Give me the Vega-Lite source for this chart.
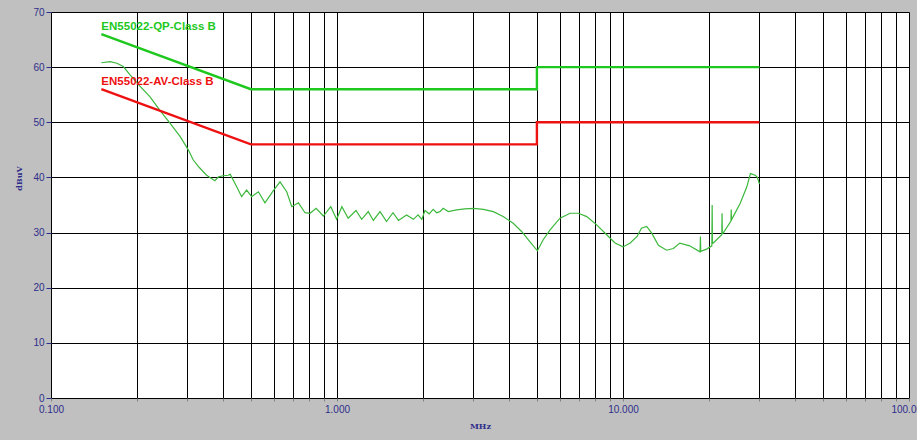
{
  "$schema": "https://vega.github.io/schema/vega-lite/v6.json",
  "autosize": {"type": "none"},
  "width": 858,
  "height": 386,
  "padding": {"left": 51, "top": 12, "right": 8, "bottom": 42},
  "background": "#c0c0c0",
  "view": {"fill": "white", "stroke": null},
  "config": {
    "font": "Liberation Sans",
    "axis": {
      "labelColor": "#2e2e8a",
      "labelFont": "Liberation Sans",
      "labelFontSize": 10,
      "titleColor": "#2e2e8a",
      "titleFont": "DejaVu Serif",
      "titleFontSize": 8,
      "titleFontWeight": "bold",
      "domain": false,
      "grid": true,
      "gridColor": "#000000",
      "gridOpacity": 1,
      "gridWidth": 1,
      "labelFlush": false,
      "labelOverlap": false
    }
  },
  "datasets": {
    "limits": [
      {"series": "QP", "f": 0.15, "v": 66, "o": 1},
      {"series": "QP", "f": 0.5, "v": 56, "o": 2},
      {"series": "QP", "f": 5, "v": 56, "o": 3},
      {"series": "QP", "f": 5, "v": 60, "o": 4},
      {"series": "QP", "f": 30, "v": 60, "o": 5},
      {"series": "AV", "f": 0.15, "v": 56, "o": 1},
      {"series": "AV", "f": 0.5, "v": 46, "o": 2},
      {"series": "AV", "f": 5, "v": 46, "o": 3},
      {"series": "AV", "f": 5, "v": 50, "o": 4},
      {"series": "AV", "f": 30, "v": 50, "o": 5}
    ],
    "labels": [
      {"series": "QP", "f": 0.15, "v": 67.3, "text": "EN55022-QP-Class B"},
      {"series": "AV", "f": 0.15, "v": 57.3, "text": "EN55022-AV-Class B"}
    ],
    "trace": [
      {"f": 0.150, "v": 60.8}, {"f": 0.161, "v": 61.0}, {"f": 0.170, "v": 60.7},
      {"f": 0.179, "v": 60.1}, {"f": 0.189, "v": 58.6}, {"f": 0.205, "v": 56.5},
      {"f": 0.222, "v": 54.6}, {"f": 0.240, "v": 52.2}, {"f": 0.261, "v": 49.8},
      {"f": 0.283, "v": 47.4}, {"f": 0.302, "v": 45.0}, {"f": 0.314, "v": 43.2},
      {"f": 0.330, "v": 41.8}, {"f": 0.350, "v": 40.4}, {"f": 0.374, "v": 39.4},
      {"f": 0.385, "v": 40.1}, {"f": 0.400, "v": 40.3}, {"f": 0.417, "v": 40.4},
      {"f": 0.423, "v": 40.6}, {"f": 0.446, "v": 38.3}, {"f": 0.464, "v": 36.5},
      {"f": 0.483, "v": 37.7}, {"f": 0.503, "v": 36.5}, {"f": 0.531, "v": 37.4},
      {"f": 0.560, "v": 35.4}, {"f": 0.599, "v": 37.6}, {"f": 0.632, "v": 39.2},
      {"f": 0.667, "v": 37.4}, {"f": 0.695, "v": 34.7}, {"f": 0.733, "v": 35.4},
      {"f": 0.773, "v": 33.6}, {"f": 0.805, "v": 33.5}, {"f": 0.845, "v": 34.4},
      {"f": 0.896, "v": 33.0}, {"f": 0.951, "v": 34.7}, {"f": 0.997, "v": 32.4},
      {"f": 1.04, "v": 34.7}, {"f": 1.094, "v": 32.6}, {"f": 1.165, "v": 34.0},
      {"f": 1.22, "v": 32.4}, {"f": 1.286, "v": 33.8}, {"f": 1.34, "v": 32.2},
      {"f": 1.414, "v": 33.8}, {"f": 1.49, "v": 32.0}, {"f": 1.57, "v": 33.6},
      {"f": 1.64, "v": 32.2}, {"f": 1.75, "v": 33.2}, {"f": 1.85, "v": 32.4},
      {"f": 1.92, "v": 33.2}, {"f": 1.98, "v": 32.4}, {"f": 2.03, "v": 34.0},
      {"f": 2.10, "v": 33.4}, {"f": 2.17, "v": 34.2}, {"f": 2.23, "v": 33.6},
      {"f": 2.29, "v": 33.8}, {"f": 2.35, "v": 34.4}, {"f": 2.45, "v": 33.8},
      {"f": 2.62, "v": 34.1}, {"f": 2.80, "v": 34.3}, {"f": 3.0, "v": 34.4},
      {"f": 3.25, "v": 34.2}, {"f": 3.52, "v": 33.8}, {"f": 3.81, "v": 32.9},
      {"f": 4.13, "v": 31.7}, {"f": 4.42, "v": 30.2}, {"f": 4.73, "v": 28.3},
      {"f": 5.02, "v": 26.7}, {"f": 5.26, "v": 28.7}, {"f": 5.56, "v": 30.5},
      {"f": 6.02, "v": 32.6}, {"f": 6.53, "v": 33.5}, {"f": 6.98, "v": 33.5},
      {"f": 7.47, "v": 32.9}, {"f": 8.09, "v": 31.4}, {"f": 8.77, "v": 29.6},
      {"f": 9.38, "v": 28.1}, {"f": 10.0, "v": 27.4}, {"f": 10.6, "v": 28.1},
      {"f": 11.2, "v": 29.3}, {"f": 11.6, "v": 30.8}, {"f": 12.1, "v": 31.1},
      {"f": 12.6, "v": 29.9}, {"f": 13.3, "v": 27.7}, {"f": 14.2, "v": 26.8},
      {"f": 15.0, "v": 27.1}, {"f": 15.8, "v": 28.1}, {"f": 17.1, "v": 27.6},
      {"f": 18.6, "v": 26.5}, {"f": 18.65, "v": 29.3}, {"f": 18.7, "v": 26.6},
      {"f": 19.6, "v": 27.0}, {"f": 20.45, "v": 27.6}, {"f": 20.5, "v": 35.0},
      {"f": 20.55, "v": 28.0}, {"f": 20.7, "v": 28.1}, {"f": 22.15, "v": 29.6},
      {"f": 22.2, "v": 33.5}, {"f": 22.25, "v": 29.8}, {"f": 22.4, "v": 29.9},
      {"f": 23.85, "v": 32.1}, {"f": 23.9, "v": 34.2}, {"f": 23.95, "v": 32.3},
      {"f": 25.7, "v": 35.3}, {"f": 27.1, "v": 38.3}, {"f": 27.9, "v": 40.7},
      {"f": 29.0, "v": 40.4}, {"f": 29.5, "v": 40.0}, {"f": 30.0, "v": 38.8}
    ]
  },
  "encoding": {
    "x": {
      "field": "f",
      "type": "quantitative",
      "scale": {"type": "log", "domain": [0.1, 100], "nice": false},
      "axis": {
        "title": "MHz",
        "values": [0.1, 0.2, 0.3, 0.4, 0.5, 0.6, 0.7, 0.8, 0.9, 1, 2, 3, 4, 5, 6, 7, 8, 9, 10, 20, 30, 40, 50, 60, 70, 80, 90, 100],
        "labelExpr": "(datum.value == 0.1 || datum.value == 1 || datum.value == 10 || datum.value == 100) ? format(datum.value, '.3f') : ''",
        "tickSize": 3,
        "tickColor": "#808080",
        "labelPadding": 3,
        "titlePadding": 8
      }
    },
    "y": {
      "field": "v",
      "type": "quantitative",
      "scale": {"domain": [0, 70], "nice": false, "zero": true},
      "axis": {
        "title": "dBuV",
        "values": [0, 10, 20, 30, 40, 50, 60, 70],
        "tickSize": 5,
        "tickColor": "#2e2e8a",
        "labelPadding": 2,
        "titleX": -28,
        "titleY": 166,
        "titleAlign": "center"
      }
    }
  },
  "layer": [
    {
      "data": {"name": "trace"},
      "mark": {"type": "line", "color": "#3cb83c", "strokeWidth": 1.2, "clip": true}
    },
    {
      "data": {"name": "limits"},
      "mark": {"type": "line", "strokeWidth": 2.4},
      "encoding": {
        "color": {"field": "series", "type": "nominal", "scale": {"domain": ["QP", "AV"], "range": ["#1ec81e", "#ee1111"]}, "legend": null},
        "order": {"field": "o", "type": "quantitative"}
      }
    },
    {
      "data": {"name": "labels"},
      "mark": {"type": "text", "align": "left", "baseline": "middle", "fontSize": 11.5, "fontWeight": "bold", "font": "Liberation Sans"},
      "encoding": {
        "text": {"field": "text"},
        "color": {"field": "series", "type": "nominal", "scale": {"domain": ["QP", "AV"], "range": ["#1ec81e", "#ee1111"]}, "legend": null}
      }
    }
  ]
}
